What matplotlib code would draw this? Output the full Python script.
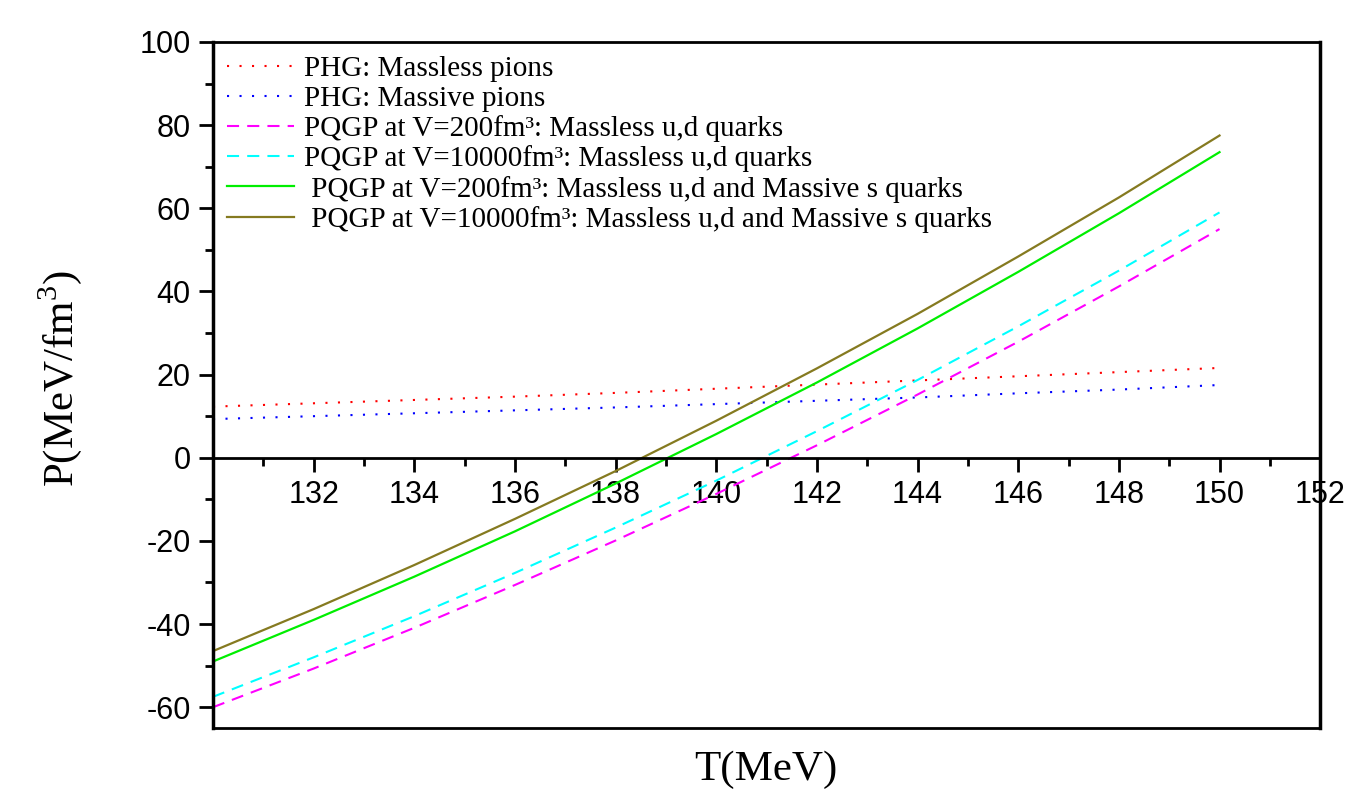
import matplotlib
matplotlib.use("Agg")
import matplotlib.pyplot as plt
from matplotlib.ticker import MultipleLocator

T = [130, 132, 134, 136, 138, 140, 142, 144, 146, 148, 150]
phg_massless = [12.3, 13.1, 13.9, 14.7, 15.6, 16.6, 17.6, 18.6, 19.6, 20.6, 21.6]
phg_massive = [9.3, 10.0, 10.7, 11.4, 12.1, 12.9, 13.7, 14.5, 15.5, 16.4, 17.5]
pqgp200_ud = [-60.0, -50.7, -40.9, -30.6, -19.9, -8.7, 3.0, 15.2, 27.9, 41.2, 55.0]
pqgp10000_ud = [-57.5, -48.0, -38.1, -27.7, -16.8, -5.5, 6.4, 18.7, 31.6, 45.0, 59.0]
pqgp200_uds = [-49.0, -39.0, -28.6, -17.7, -6.2, 5.7, 18.1, 31.1, 44.7, 58.8, 73.5]
pqgp10000_uds = [-46.5, -36.4, -25.8, -14.7, -3.2, 8.9, 21.5, 34.6, 48.4, 62.6, 77.5]

x_ticks = [132, 134, 136, 138, 140, 142, 144, 146, 148, 150, 152]
x_ticklabels = ["132", "134", "136", "138", "140", "142", "144", "146", "148", "150", "152"]

labels = [
    "PHG: Massless pions",
    "PHG: Massive pions",
    "PQGP at V=200fm\u00b3: Massless u,d quarks",
    "PQGP at V=10000fm\u00b3: Massless u,d quarks",
    " PQGP at V=200fm\u00b3: Massless u,d and Massive s quarks",
    " PQGP at V=10000fm\u00b3: Massless u,d and Massive s quarks",
]

plt.rcParams["axes.unicode_minus"] = False
plt.rcParams["mathtext.fontset"] = "custom"
plt.rcParams["mathtext.rm"] = "Liberation Serif"

fig = plt.figure(figsize=(13.61, 7.89), dpi=100)
ax = fig.add_axes([0.1565, 0.0773, 0.970 - 0.1565, 0.9468 - 0.0773])

dot = (0, (1, 5))
dash = (0, (5.8, 3.9))
ax.plot(T, phg_massless, color="#ff0000", lw=1.5, ls=dot, label=labels[0])
ax.plot(T, phg_massive, color="#0000ff", lw=1.5, ls=dot, label=labels[1])
ax.plot(T, pqgp200_ud, color="#ff00ff", lw=1.5, ls=dash, label=labels[2])
ax.plot(T, pqgp10000_ud, color="#00ffff", lw=1.5, ls=dash, label=labels[3])
ax.plot(T, pqgp200_uds, color="#00ee00", lw=1.6, label=labels[4])
ax.plot(T, pqgp10000_uds, color="#857a20", lw=1.6, label=labels[5])

ax.set_xlim(130, 152)
ax.set_ylim(-65, 100)

ax.spines["bottom"].set_position(("data", 0))
ax.spines["bottom"].set_linewidth(2)
ax.spines["left"].set_linewidth(2.5)
ax.spines["top"].set_linewidth(2)
ax.spines["right"].set_linewidth(2.5)
ax.plot([0, 1], [0, 0], transform=ax.transAxes, color="black", lw=2, clip_on=False)

ax.xaxis.set_major_locator(MultipleLocator(2))
ax.xaxis.set_minor_locator(MultipleLocator(1))
ax.yaxis.set_major_locator(MultipleLocator(20))
ax.yaxis.set_minor_locator(MultipleLocator(10))
ax.tick_params(which="major", direction="out", length=10, width=2)
ax.tick_params(which="minor", direction="out", length=6, width=2)
ax.tick_params(axis="both", which="major", labelsize=22, pad=6)
for lab in ax.get_yticklabels():
    lab.set_fontfamily("Liberation Sans")
ax.set_xticks(x_ticks)
ax.set_xticklabels(x_ticklabels, fontfamily="Liberation Sans", fontsize=22)

fig.text(0.563, 0.024, "T(MeV)", family="Liberation Serif", fontsize=31,
         ha="center", va="center")
fig.text(0.044, 0.521, "P(MeV/fm$^3$)", family="Liberation Serif", fontsize=31,
         ha="center", va="center", rotation=90)

leg = ax.legend(loc="upper left", bbox_to_anchor=(0.0, 1.0), frameon=False,
                prop={"family": "Liberation Serif", "size": 21},
                handlelength=2.3, handletextpad=0.33, labelspacing=0.11,
                borderaxespad=0.08)

fig.savefig("out.png", dpi=100)
